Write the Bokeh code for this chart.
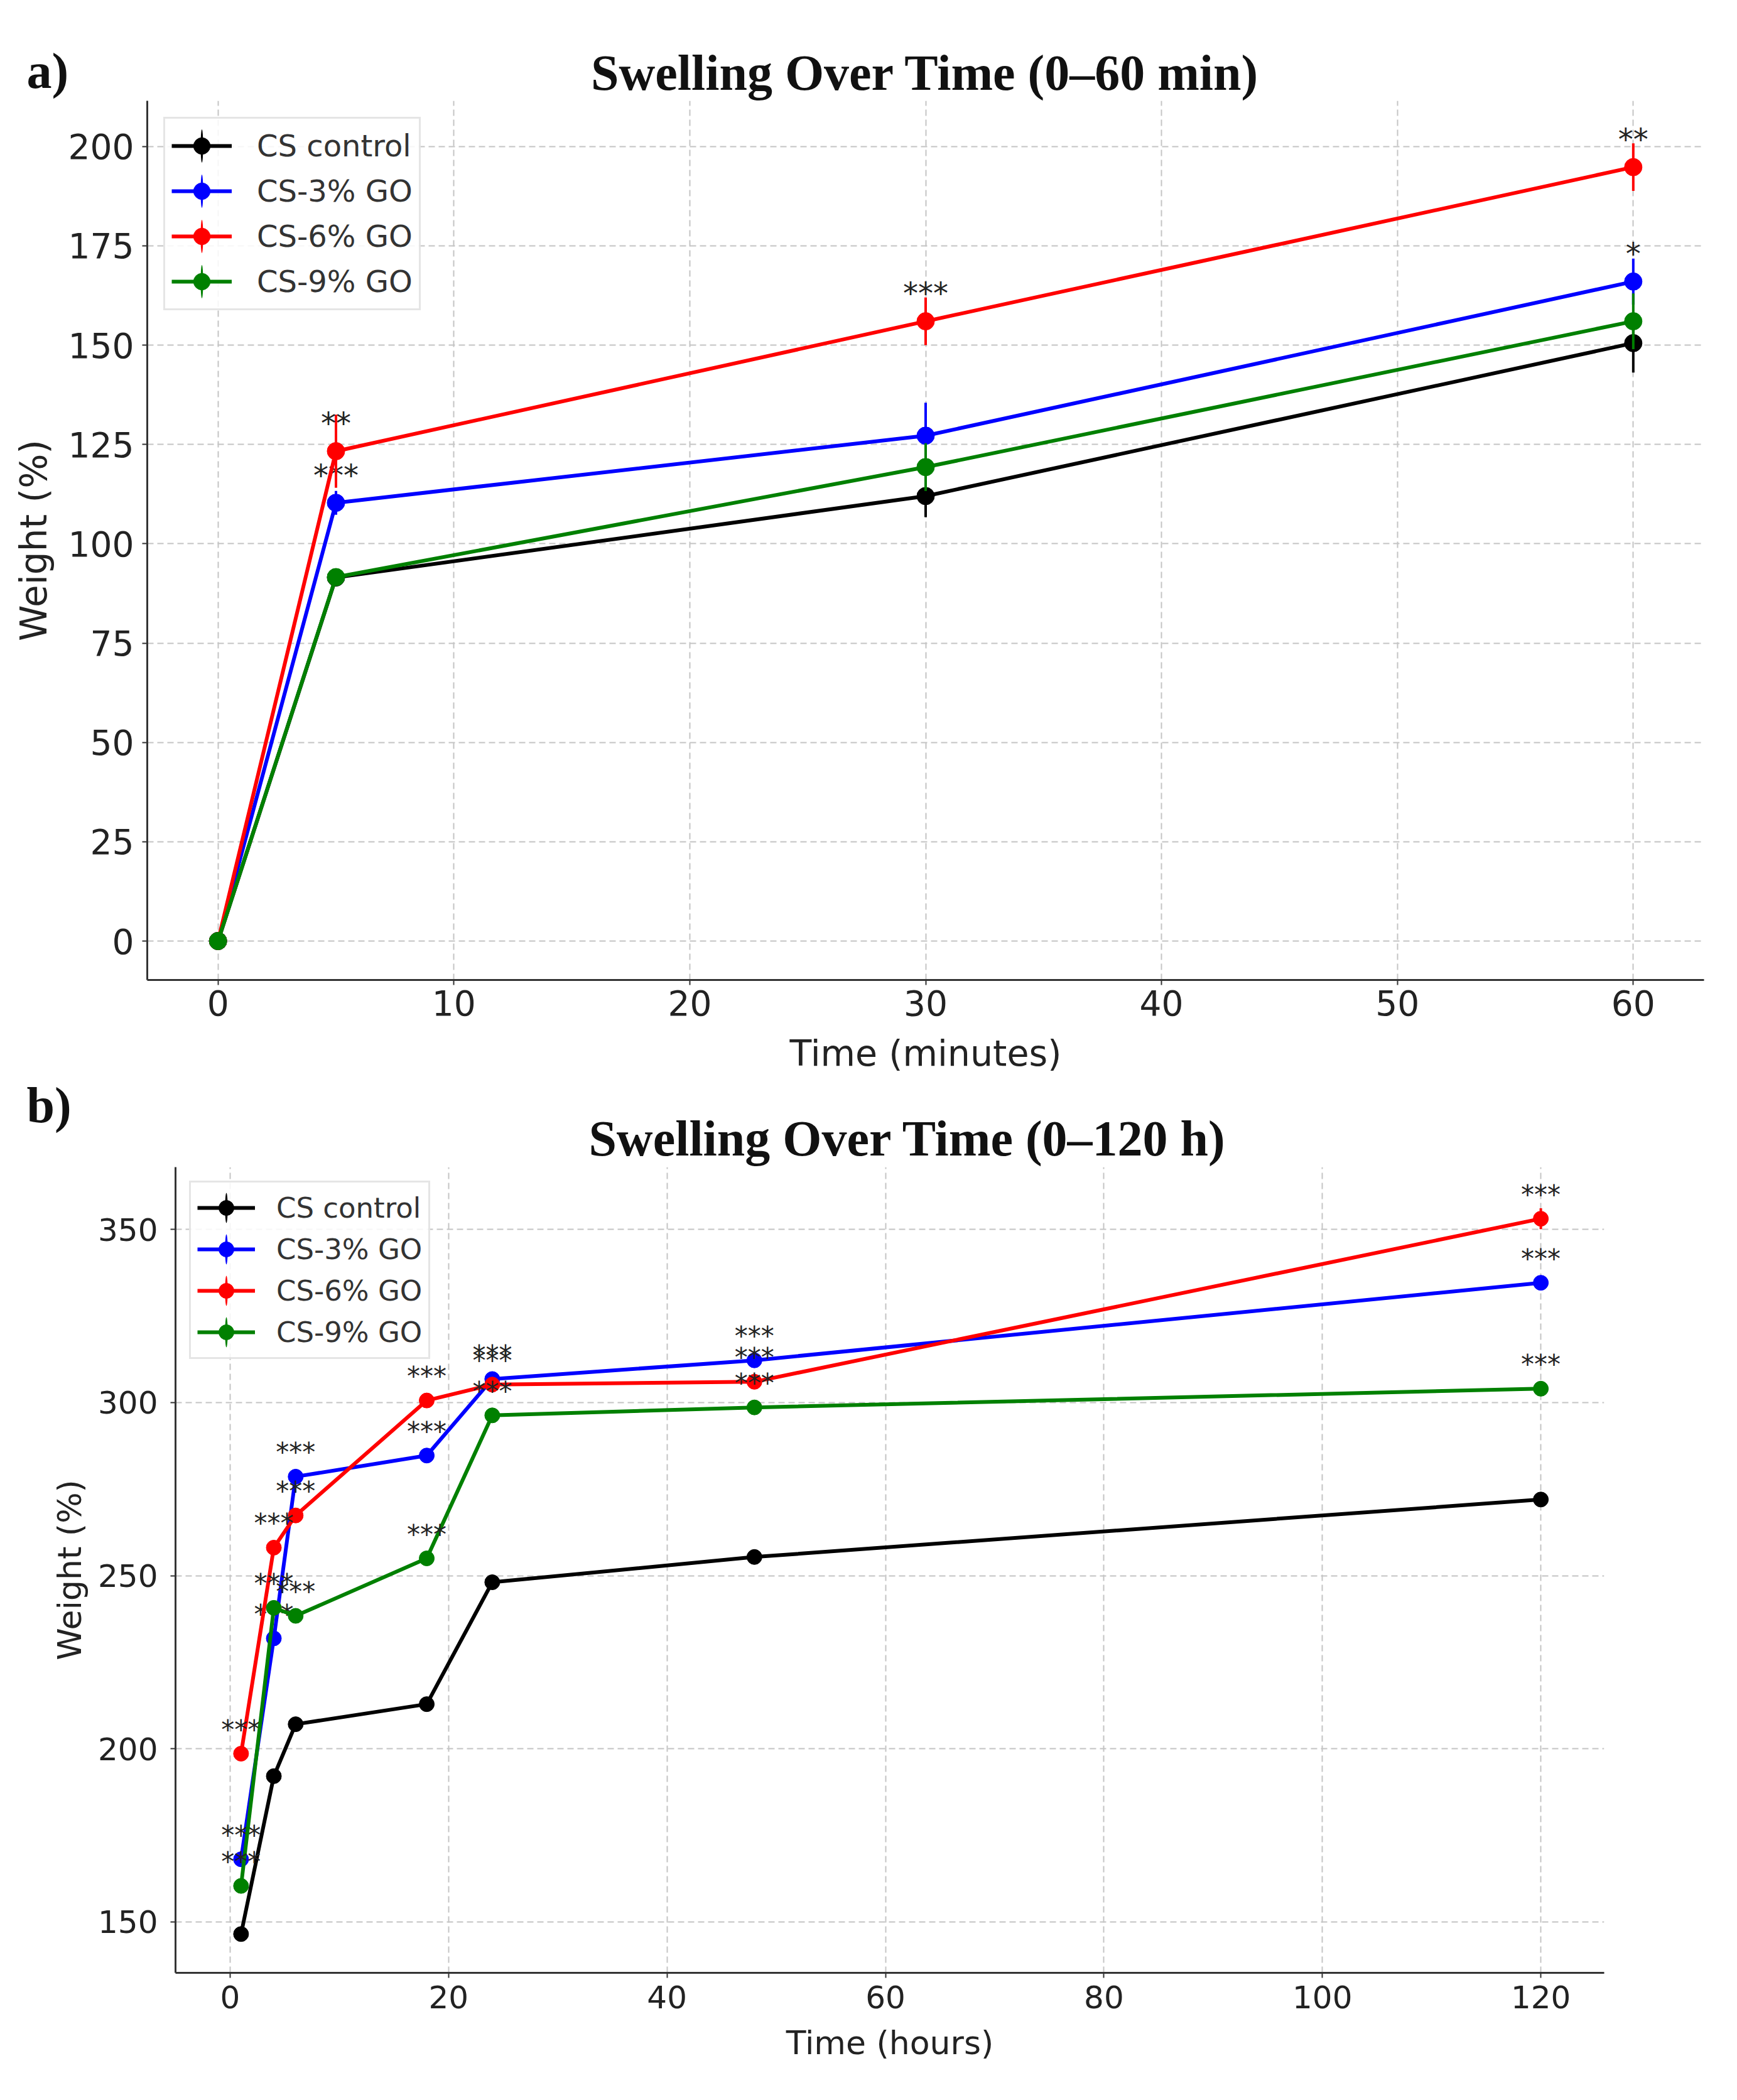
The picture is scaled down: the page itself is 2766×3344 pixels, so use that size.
from bokeh.plotting import figure
from bokeh.models import Range1d, SingleIntervalTicker, Label
from bokeh.layouts import column, row
from bokeh.embed import file_html
from bokeh.resources import INLINE
from bokeh.core.properties import value

groups = ["CS control", "CS-3% GO", "CS-6% GO", "CS-9% GO"]
colors = ["black", "blue", "red", "green"]

# a) swelling 0-60 min
time_min = [0, 5, 30, 60]
ctrl_min = [0, 91.5, 112.0, 150.5]
go3_min = [0, 110.3, 127.2, 166.0]
go6_min = [0, 123.3, 156.0, 194.8]
go9_min = [0, 91.6, 119.3, 156.0]
ctrl_min_sd = [0, 1.0, 5.3, 7.4]
go3_min_sd = [0, 3.0, 8.3, 5.8]
go6_min_sd = [0, 9.2, 6.0, 6.0]
go9_min_sd = [0, 1.5, 6.0, 7.0]
ctrl_min_sig = ["", "", "", ""]
go3_min_sig = ["", "***", "", "*"]
go6_min_sig = ["", "**", "***", "**"]
go9_min_sig = ["", "", "", ""]

# b) swelling 0-120 h
time_h = [1, 4, 6, 18, 24, 48, 120]
ctrl_h = [146.5, 192.1, 207.1, 212.9, 248.1, 255.4, 272.0]
go3_h = [168.1, 231.9, 278.6, 284.7, 306.8, 312.2, 334.6]
go6_h = [198.6, 258.1, 267.4, 300.6, 305.2, 306.0, 353.1]
go9_h = [160.4, 240.7, 238.4, 255.0, 296.3, 298.6, 304.0]
ctrl_h_sd = [2.0, 1.5, 1.5, 1.5, 1.5, 1.5, 1.5]
go3_h_sd = [1.5, 1.5, 1.5, 1.5, 1.5, 1.5, 1.5]
go6_h_sd = [1.5, 1.5, 1.5, 1.5, 1.5, 1.5, 3.0]
go9_h_sd = [2.0, 1.5, 1.5, 1.5, 1.5, 1.5, 1.5]
ctrl_h_sig = ["", "", "", "", "", "", ""]
go3_h_sig = ["***"] * 7
go6_h_sig = ["***"] * 7
go9_h_sig = ["***"] * 7

SIG_OFFSET = 8.5
PAGE_W = 2766


def header(h, title, tx, ty, tag, gx, gy):
    f = figure(width=PAGE_W, height=h, x_range=Range1d(0, PAGE_W),
               y_range=Range1d(0, h), x_axis_type=None, y_axis_type=None,
               min_border=0, title=None, output_backend="svg",
               toolbar_location=None)
    f.outline_line_color = None
    f.add_layout(Label(x=tx, y=ty, text=title, text_align="center",
                       text_baseline="middle", text_font="Liberation Serif",
                       text_font_style="bold", text_font_size="80px",
                       text_color="#111111"))
    f.add_layout(Label(x=gx, y=gy, text=tag, text_align="left",
                       text_baseline="middle", text_font="Liberation Serif",
                       text_font_style="bold", text_font_size="80px",
                       text_color="#111111"))
    return f


def panel(times, series, sds, sigs, xr, yr, xstep, ystep, xlabel, g):
    p = figure(frame_width=g["fw"], frame_height=g["fh"],
               min_border_left=g["bl"], min_border_right=g["br"],
               min_border_top=0, min_border_bottom=g["bb"],
               x_range=Range1d(*xr), y_range=Range1d(*yr), title=None,
               output_backend="svg", toolbar_location=None)
    p.outline_line_color = None

    for name, col, vals, sd, sig in zip(groups, colors, series, sds, sigs):
        lo = [v - e for v, e in zip(vals, sd)]
        hi = [v + e for v, e in zip(vals, sd)]
        p.segment(x0=times, y0=lo, x1=times, y1=hi, line_color=col,
                  line_width=g["ew"])
        p.line(times, vals, line_color=col, line_width=g["lw"], legend_label=name)
        # thin ellipse hidden behind the marker, gives the error stub in the legend
        p.ellipse(x=times, y=vals, width=1.5, height=g["ms"] * 0.7,
                  width_units="screen", height_units="screen",
                  fill_color=col, line_color=None, legend_label=name)
        p.scatter(times, vals, size=g["ms"], marker="circle", fill_color=col,
                  line_color=col, legend_label=name)
        tx = [t for t, s in zip(times, sig) if s]
        ty = [v + SIG_OFFSET for v, s in zip(vals, sig) if s]
        tt = [s for s in sig if s]
        if tt:
            p.text(x=tx, y=ty, text=tt, text_align="center",
                   text_baseline="middle", y_offset=g["sf"] * 0.2,
                   text_font=value("DejaVu Sans"),
                   text_font_size=value(f"{g['sf']}px"), text_color="#222222")

    p.xaxis.ticker = SingleIntervalTicker(interval=xstep)
    p.yaxis.ticker = SingleIntervalTicker(interval=ystep)
    p.xaxis.axis_label = xlabel
    p.yaxis.axis_label = "Weight (%)"
    for ax in (p.xaxis, p.yaxis):
        ax.axis_line_width = 3
        ax.axis_line_color = "#333333"
        ax.major_tick_line_color = "#333333"
        ax.major_tick_line_width = 2
        ax.major_tick_out = 8
        ax.major_tick_in = 0
        ax.minor_tick_line_color = None
        ax.major_label_text_font = "DejaVu Sans"
        ax.major_label_text_font_size = f"{g['tf']}px"
        ax.major_label_text_color = "#222222"
        ax.axis_label_text_font = "DejaVu Sans"
        ax.axis_label_text_font_style = "normal"
        ax.axis_label_text_color = "#222222"
    p.xaxis.axis_label_text_font_size = f"{g['af']}px"
    p.yaxis.axis_label_text_font_size = f"{g['yf']}px"
    p.xaxis.major_label_standoff = g["xs"]
    p.xaxis.axis_label_standoff = g["xl"]
    p.yaxis.major_label_standoff = g["ys"]
    p.yaxis.axis_label_standoff = g["yl"]

    for gr in (p.xgrid, p.ygrid):
        gr.grid_line_color = "#c4c4c4"
        gr.grid_line_width = 2
        gr.grid_line_dash = "10 6"

    lg = p.legend[0]
    lg.location = "top_left"
    lg.margin = g["lm"]
    lg.padding = g["lp"]
    lg.spacing = 6
    lg.glyph_height = g["gh"]
    lg.label_height = g["gh"]
    lg.glyph_width = g["gw"]
    lg.label_standoff = g["ls"]
    lg.label_text_font = "DejaVu Sans"
    lg.label_text_font_size = f"{g['lf']}px"
    lg.label_text_color = "#333333"
    lg.border_line_color = "#cccccc"
    lg.border_line_width = 3
    lg.background_fill_alpha = 0.85
    return p


geo_a = dict(fw=2479, fh=1400, bl=234, br=53, bb=152,
             lw=6, ew=4, ms=28, sf=48, tf=55, af=57, yf=58,
             ys=13, yl=18, xs=8, xl=24,
             lm=26, lp=10, gh=66, gw=96, ls=40, lf=48)
geo_b = dict(fw=2275, fh=1283, bl=279, br=212, bb=195,
             lw=6, ew=4, ms=24, sf=42, tf=50, af=52, yf=52,
             ys=20, yl=12, xs=12, xl=22,
             lm=22, lp=10, gh=60, gw=92, ls=34, lf=45)

head_a = header(160, "Swelling Over Time (0\u201360 min)", 1473, 45, "a)", 42, 48)
pa = panel(time_min, [ctrl_min, go3_min, go6_min, go9_min],
           [ctrl_min_sd, go3_min_sd, go6_min_sd, go9_min_sd],
           [ctrl_min_sig, go3_min_sig, go6_min_sig, go9_min_sig],
           (-3, 63), (-9.8, 211.5), 10, 25, "Time (minutes)", geo_a)

head_b = header(146, "Swelling Over Time (0\u2013120 h)", 1445, 46, "b)", 42, 99)
pb = panel(time_h, [ctrl_h, go3_h, go6_h, go9_h],
           [ctrl_h_sd, go3_h_sd, go6_h_sd, go9_h_sd],
           [ctrl_h_sig, go3_h_sig, go6_h_sig, go9_h_sig],
           (-5, 125.8), (135.3, 368.0), 20, 50, "Time (hours)", geo_b)

p = column(head_a, row(pa), head_b, row(pb))
open("out.html", "w", encoding="utf-8").write(file_html(p, INLINE))
